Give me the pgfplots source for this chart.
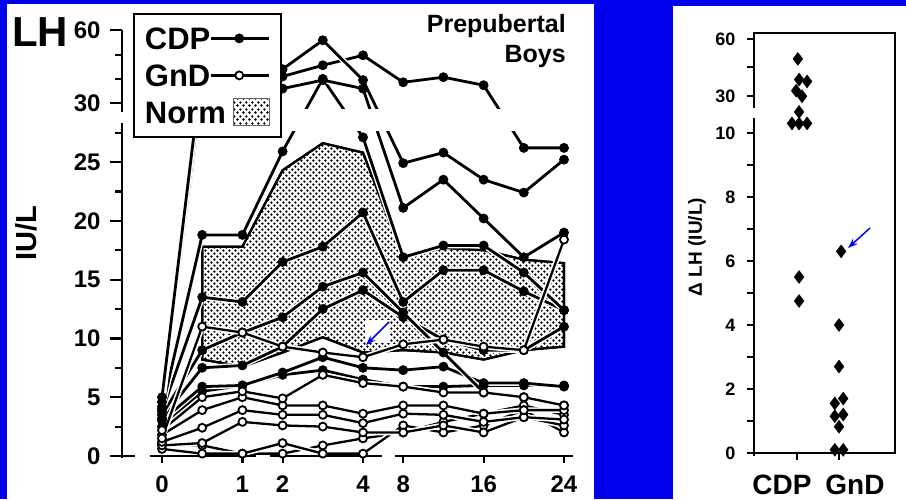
\documentclass[border=0pt]{standalone}
\usepackage{fontspec}
\setmainfont{Liberation Sans}
\usepackage{pgfplots}
\pgfplotsset{compat=1.18}
\usepackage{pgfplotstable}
\usetikzlibrary{patterns.meta,arrows.meta}
\definecolor{bg}{RGB}{0,0,238}
\tikzdeclarepattern{
  name=stipple, type=uncolored,
  bottom left={(0pt,0pt)}, top right={(6.4pt,6.4pt)}, tile size={(6.4pt,6.4pt)},
  code={
    \pgfpathcircle{\pgfqpoint{1.6pt}{1.6pt}}{1.4pt}
    \pgfpathcircle{\pgfqpoint{4.8pt}{4.8pt}}{1.4pt}
    \pgfusepath{fill}
  }
}
\pgfmathdeclarefunction{brkL}{1}{\pgfmathparse{min(#1,30)+0.2067*max(#1-30,0)}}
\pgfmathdeclarefunction{brkR}{1}{\pgfmathparse{min(#1,10)+0.0588*max(#1-10,0)}}

% LH (IU/L) per sampling time; idx 0..10 = 0, 0.5, 1, 2, 3, 4, 8, 12, 16, 20, 24 h
\pgfplotstableread{
idx C1   C2   C3   C4   C5   C6   C7   C8  C9
0   5.0  4.6  4.2  4.0  3.8  3.5  3.2  3.0 2.5
1   45   40   36   18.8 13.5 9.0  7.5  5.9 5.5
2   46   42   38   18.8 13.1 10.5 7.7  6.0 6.0
3   44   41   36   25.9 16.5 11.8 9.3  7.1 6.9
4   55.9 45.6 39.5 40   17.8 14.4 12.5 8.4 7.3
5   39.5 49.7 36.0 27.1 20.7 15.6 14.1 7.5 6.5
6   24.9 38.6 21.1 16.9 13.1 12.2 11.8 7.3 5.9
7   25.8 40.7 23.5 17.9 15.8 8.8  9.9  7.6 5.9
8   23.5 37.4 20.2 17.9 15.8 5.4  9.0  6.2 6.0
9   22.4 26.2 16.9 15.6 14.0 5.0  9.0  6.2 6.0
10  25.2 26.2 19.0 12.4 12.4 4.3  11.0 5.9 6.0
}\cdp
\pgfplotstableread{
idx G1   G2  G3  G4  G5  G6  G7
0   1.5  2.2 1.8 1.2 0.9 0.6 1.0
1   11.0 5.0 3.9 2.4 1.1 0.2 0.9
2   10.5 5.5 5.0 3.9 2.9 0.2 0.2
3   9.3  4.9 4.3 3.5 2.6 1.1 0.2
4   8.8  6.9 4.3 3.5 2.5 0.2 0.9
5   8.4  6.2 3.6 2.8 2.0 0.2 1.5
6   9.5  5.9 4.3 3.6 2.0 2.6 2.0
7   9.9  5.4 4.3 3.5 2.6 2.0 2.9
8   9.3  5.4 3.6 2.9 2.0 2.6 3.6
9   9.0  5.0 3.9 3.3 3.3 3.9 4.3
10  18.4 4.3 3.9 3.1 2.6 2.0 3.5
}\gnd
\pgfplotstableread{
idx v
1  17.8
2  17.8
3  24.3
4  26.6
5  25.8
6  16.9
7  17.7
8  17.5
9  16.7
10 16.4
10 9.3
9  9.0
8  8.2
7  8.8
6  9.0
5  8.8
4  10.1
3  8.8
2  7.6
1  8.2
1  17.8
}\norm
% Delta LH
\pgfplotstableread{
x    v
1.02 49.4
1.05 38.4
1.24 37.4
0.98 32.5
1.12 29.5
1.05 21.2
0.88 15.1
1.05 15.0
1.24 15.1
1.05 5.5
1.05 4.75
}\dcdp
\pgfplotstableread{
x    v
2.05 6.3
2.0  4.0
2.0  2.7
1.9  1.55
2.1  1.7
1.9  1.15
2.1  1.2
2.0  0.82
1.9  0.1
2.1  0.1
}\dgnd

\pgfplotsset{
  cdp/.style={black, line width=2.8pt, mark=*, mark size=4.6pt, mark options={solid, fill=black, line width=0.6pt}},
  gnd/.style={black, line width=2.3pt, mark=*, mark size=4.0pt, mark options={solid, fill=white, line width=1.8pt}},
  halo/.style={preaction={draw=white, line width=5.6pt}},
  band/.style={draw=black, line width=2.2pt, preaction={fill=white}, pattern=stipple},
  lineleg/.style={legend image code/.code={
     \draw[##1,overlay] (-22pt,0pt) -- (0pt,0pt);
     \draw[mark repeat=2,mark phase=2,##1] plot coordinates {(0pt,0pt)(6pt,0pt)(36pt,0pt)};}},
  patchleg/.style={legend image code/.code={
     \draw[##1] (0pt,-13.5pt) rectangle (36pt,13.5pt);}},
}

\begin{document}
\begin{tikzpicture}[x=1pt,y=1pt]
\useasboundingbox (0,0) rectangle (906,499);
\fill[bg] (0,0) rectangle (906,499);
\fill[white] (7,0) rectangle (594,495);
\fill[white] (673,0) rectangle (906,493);

\begin{axis}[
  at={(122pt,43pt)}, anchor=south west,
  x=40.2pt, y=11.76pt,
  xmin=-0.995, xmax=10.4, ymin=0, ymax=37.8,
  clip=false, axis line style={draw=none},
  ytick={0,5,10,15,20,25,30,36.2},
  yticklabels={0,5,10,15,20,25,30,60},
  minor ytick={2.5,7.5,12.5,17.5,22.5,27.5,32.07,34.13},
  ytick pos=left, tick align=outside,
  major tick length=12pt, minor tick length=7pt,
  ytick style={black, line width=2.2pt},
  xtick={0,2,3,5,6,8,10}, xticklabels={0,1,2,4,8,16,24},
  xtick pos=bottom, xtick style={draw=none},
  tick label style={font=\fontsize{24}{24}\selectfont\bfseries, text=black},
  yticklabel style={xshift=-6pt},
  xticklabel style={yshift=-4pt},
  legend style={at={(axis cs:-0.721,37.67)}, anchor=north west, draw=black, line width=1.8pt, fill=white,
    font=\fontsize{31}{31}\selectfont\bfseries, inner xsep=10pt, inner ysep=8pt, row sep=4pt, column sep=5pt,
    nodes={inner sep=1pt, text height=27pt, text depth=4pt}},
  legend plot pos=right, legend cell align=left,
]
\addplot[band, forget plot] table[x=idx, y=v] {\norm};
\pgfplotsinvokeforeach{C9,C8,C7,C6,C5,C4,C3,C2,C1}{
  \addplot[cdp, halo, forget plot] table[x=idx, y expr={brkL(\thisrow{#1})}] {\cdp};
}
\pgfplotsinvokeforeach{G7,G6,G5,G4,G3,G2,G1}{
  \addplot[gnd, halo, forget plot] table[x=idx, y expr={brkL(\thisrow{#1})}] {\gnd};
}
\fill[white] (axis cs:-0.3,27.6) rectangle (axis cs:10.4,29.5);
\draw[line width=2.4pt] (axis cs:-0.995,-0.2) -- (axis cs:-0.995,28.3);
\draw[line width=2.4pt] (axis cs:-0.995,29.25) -- (axis cs:-0.995,36.2);
\draw[line width=2.2pt] (axis cs:-0.995,0) -- ++(13pt,0pt);
\draw[line width=2.4pt] (axis cs:-0.3,0) -- (axis cs:2.34,0);
\draw[line width=2.4pt] (axis cs:2.69,0) -- (axis cs:5.47,0);
\draw[line width=2.4pt] (axis cs:5.8,0) -- (axis cs:10.22,0);
\pgfplotsinvokeforeach{0,2,3,5,6,8,10}{
  \draw[line width=2.2pt] (axis cs:#1,0) -- ++(0pt,-7pt);
}
\addlegendimage{cdp, lineleg}
\addlegendentry{CDP}
\addlegendimage{gnd, lineleg}
\addlegendentry{GnD}
\addlegendimage{draw=black!60, line width=1pt, preaction={fill=white}, pattern=stipple, patchleg}
\addlegendentry{Norm}
\end{axis}

\begin{axis}[
  at={(754pt,46pt)}, anchor=south west,
  x=42pt, y=32pt, xmin=-0.024, xmax=3.33, ymin=0, ymax=13.125,
  clip=false, axis line style={draw=none},
  ytick={0,1,2,3,4,5,6,7,8,9,10,11.16,12.05,12.94},
  yticklabels={0,,2,,4,,6,,8,,10,30,,60},
  ytick pos=left, tick align=outside, major tick length=7pt,
  ytick style={black, line width=2pt},
  xtick=\empty,
  yticklabel style={font=\fontsize{18}{18}\selectfont\bfseries, xshift=-8pt},
]
\addplot[only marks, mark=diamond*, mark size=6.5pt, black] table[x=x, y expr={brkR(\thisrow{v})}] {\dcdp};
\addplot[only marks, mark=diamond*, mark size=6.5pt, black] table[x=x, y expr={brkR(\thisrow{v})}] {\dgnd};
\draw[line width=2.4pt] (axis cs:-0.024,-0.1) -- (axis cs:-0.024,10.47);
\draw[line width=2.4pt] (axis cs:-0.024,10.78) -- (axis cs:-0.024,13.125) -- (axis cs:3.33,13.125) -- (axis cs:3.33,0) -- (axis cs:-0.1,0);
\draw[line width=2pt] (axis cs:1,0) -- ++(0pt,-7pt);
\draw[line width=2pt] (axis cs:2,0) -- ++(0pt,-7pt);
\end{axis}

% annotations
\fill[white] (365,156) rectangle (390,179);
\draw[blue, line width=1.5pt, -{Stealth[length=10pt,width=7pt]}] (389,177) -- (366,154);
\draw[blue, line width=1.5pt, -{Stealth[length=10pt,width=7pt]}] (870,271) -- (848,251);

\node[font=\fontsize{42}{42}\selectfont\bfseries, anchor=base west, inner sep=0pt] at (12,452) {LH};
\node[rotate=90, font=\fontsize{29}{29}\selectfont\bfseries] at (26,266) {IU/L};
\node[anchor=base east, font=\fontsize{25}{25}\selectfont\bfseries, inner sep=0pt] at (566,466) {Prepubertal};
\node[anchor=base east, font=\fontsize{25}{25}\selectfont\bfseries, inner sep=0pt] at (566,436) {Boys};
\node[rotate=90, font=\fontsize{19}{19}\selectfont\bfseries] at (697,252) {Δ LH (IU/L)};
\node[font=\fontsize{28}{28}\selectfont\bfseries, inner sep=0pt, anchor=base] at (782,5) {CDP};
\node[font=\fontsize{28}{28}\selectfont\bfseries, inner sep=0pt, anchor=base] at (855,5) {GnD};
\end{tikzpicture}
\end{document}
